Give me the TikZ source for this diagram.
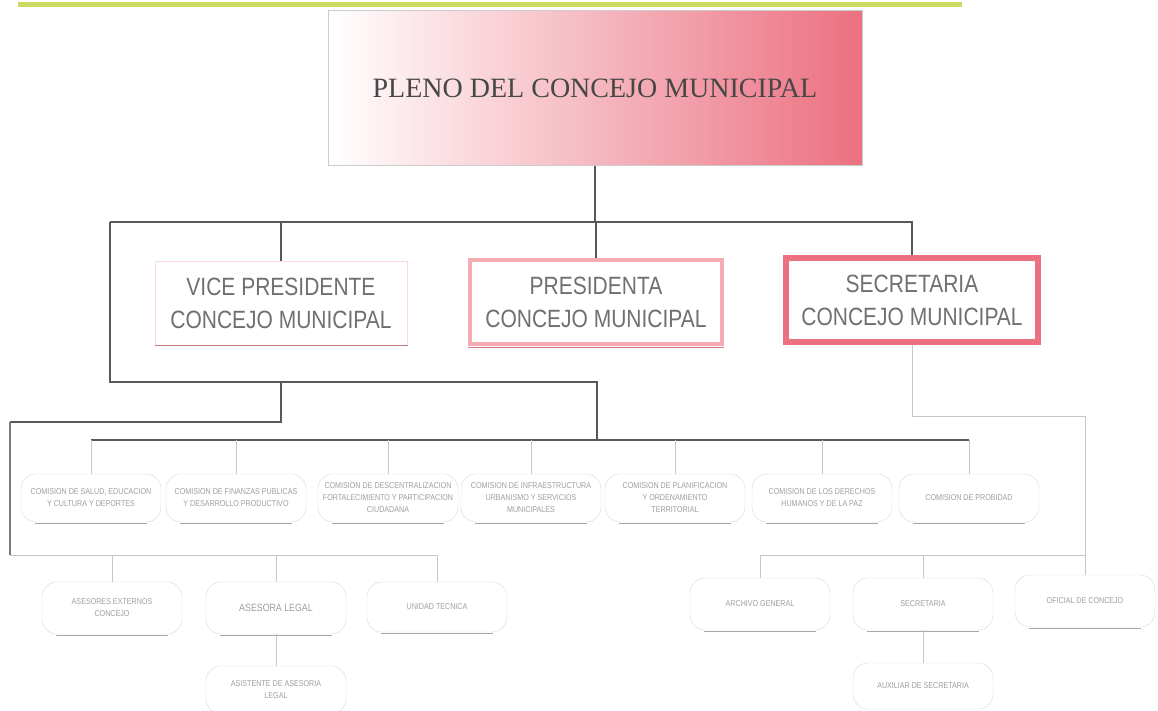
\documentclass[tikz,border=0pt]{standalone}
\usepackage{fontspec}
\setmainfont{Liberation Serif}
\newfontfamily\angosta[FakeStretch=0.84]{Liberation Sans}
\usetikzlibrary{positioning}
\definecolor{rosa}{RGB}{236,112,128}
\definecolor{rosaclaro}{RGB}{244,172,178}
\definecolor{verdel}{RGB}{204,218,96}
\definecolor{linea}{RGB}{88,88,88}
\definecolor{texto}{RGB}{112,112,112}
\tikzset{
	titulo/.style={draw=gray!40, left color=white, right color=rosa, minimum width=534pt, minimum height=155pt, inner sep=0pt, text=black!72, font=\fontsize{28}{32}\selectfont},
	cargo/.style={fill=white, minimum width=252pt, minimum height=84pt, inner sep=0pt, align=center, text=texto, font=\angosta\fontsize{25}{33}\selectfont},
	comision/.style={draw=gray!30, fill=white, rounded corners=15pt, minimum width=140pt, minimum height=48pt, inner sep=2pt, align=center, text=gray!75, font=\angosta\fontsize{8.5}{12}\selectfont},
	grueso/.style={draw=linea, line width=2.6pt},
	medio/.style={draw=linea!80, line width=1.4pt},
	fino/.style={draw=gray!45, line width=0.9pt},
}
\begin{document}
\begin{tikzpicture}[x=1pt, y=-1pt]
	\useasboundingbox (0,0) rectangle (1158,710);
	\draw[verdel, line width=5pt] (18,4) -- (962,4);
	\node[titulo] (pleno) at (595,88) {PLENO DEL CONCEJO MUNICIPAL};
	\node[cargo, draw=rosaclaro!45, line width=1pt] (vice) at (281,303) {VICE PRESIDENTE\\CONCEJO MUNICIPAL};
	\node[cargo, draw=rosaclaro, line width=3.5pt] (presi) at (596,302) {PRESIDENTA\\CONCEJO MUNICIPAL};
	\node[cargo, draw=rosa, line width=6pt] (secre) at (912,300) {SECRETARIA\\CONCEJO MUNICIPAL};
	\node[comision] (com1) at (91,498) {COMISION DE SALUD, EDUCACION\\Y CULTURA Y DEPORTES};
	\node[comision] (com2) at (236,498) {COMISION DE FINANZAS PUBLICAS\\Y DESARROLLO PRODUCTIVO};
	\node[comision] (com3) at (388,498) {COMISION DE DESCENTRALIZACION\\FORTALECIMIENTO Y PARTICIPACION\\CIUDADANA};
	\node[comision] (com4) at (531,498) {COMISION DE INFRAESTRUCTURA\\URBANISMO Y SERVICIOS\\MUNICIPALES};
	\node[comision] (com5) at (675,498) {COMISION DE PLANIFICACION\\Y ORDENAMIENTO\\TERRITORIAL};
	\node[comision] (com6) at (822,498) {COMISION DE LOS DERECHOS\\HUMANOS Y DE LA PAZ};
	\node[comision] (com7) at (969,498) {COMISION DE PROBIDAD};
	\node[comision, minimum height=52pt] (asesores) at (112,608) {ASESORES EXTERNOS\\CONCEJO};
	\node[comision, minimum height=52pt, font=\angosta\fontsize{10.5}{12}\selectfont] (asesora) at (276,608) {ASESORA LEGAL};
	\node[comision, minimum height=50pt] (unidad) at (437,607) {UNIDAD TECNICA};
	\node[comision, minimum height=48pt] (asistente) at (276,690) {ASISTENTE DE ASESORIA\\LEGAL};
	\node[comision, minimum height=52pt] (archivo) at (760,604) {ARCHIVO GENERAL};
	\node[comision, minimum height=52pt] (secre2) at (923,604) {SECRETARIA};
	\node[comision, minimum height=52pt] (oficial) at (1085,601) {OFICIAL DE CONCEJO};
	\node[comision, minimum height=46pt] (auxiliar) at (923,686) {AUXILIAR DE SECRETARIA};
	\foreach \n in {com1,com2,com3,com4,com5,com6,com7,asesores,asesora,unidad,archivo,secre2,oficial}
		\draw[gray!70, line width=1.2pt] ([xshift=14pt, yshift=-1pt]\n.south west) -- ([xshift=-14pt, yshift=-1pt]\n.south east);
	\draw[rosa!60!gray, line width=1.5pt] (vice.south west) -- (vice.south east);
	\draw[rosa!80!gray, line width=1.5pt] ([yshift=-1.5pt]presi.south west) -- ([yshift=-1.5pt]presi.south east);
	\coordinate (izq) at (110,222);
	\coordinate (codo) at (110,382);
	\coordinate (bus) at (597,440);
	\coordinate (codo2) at (281,422);
	\coordinate (baja) at (10,555);
	\coordinate (sd) at (912,416);
	\coordinate (bd) at (760,555);
	\draw[grueso] (pleno.south) -- (pleno.south |- izq);
	\draw[grueso] (izq) -- (izq -| secre.north) -- (secre.north);
	\draw[grueso] (vice.north) -- (vice.north |- izq);
	\draw[grueso] (presi.north) -- (presi.north |- izq);
	\draw[grueso] (izq) -- (codo) -| (bus);
	\draw[grueso] (com1.north |- bus) -- (com7.north |- bus);
	\foreach \n in {com1,com2,com3,com4,com5,com6,com7}
		\draw[fino] (\n.north) -- (\n.north |- bus);
	\draw[grueso] (codo -| codo2) -- (codo2) -- (codo2 -| baja);
	\draw[medio] (codo2 -| baja) -- (baja);
	\draw[fino] (baja) -- (baja -| unidad.north) -- (unidad.north);
	\draw[fino] (asesores.north) -- (asesores.north |- baja);
	\draw[fino] (asesora.north) -- (asesora.north |- baja);
	\draw[fino] (asesora) -- (asistente);
	\draw[fino] (secre.south) -- (sd) -- (sd -| oficial.north) -- (oficial.north);
	\draw[fino] (archivo.north) -- (bd) -- (bd -| oficial.north);
	\draw[fino] (secre2.north) -- (secre2.north |- bd);
	\draw[fino] (secre2) -- (auxiliar);
\end{tikzpicture}
\end{document}
